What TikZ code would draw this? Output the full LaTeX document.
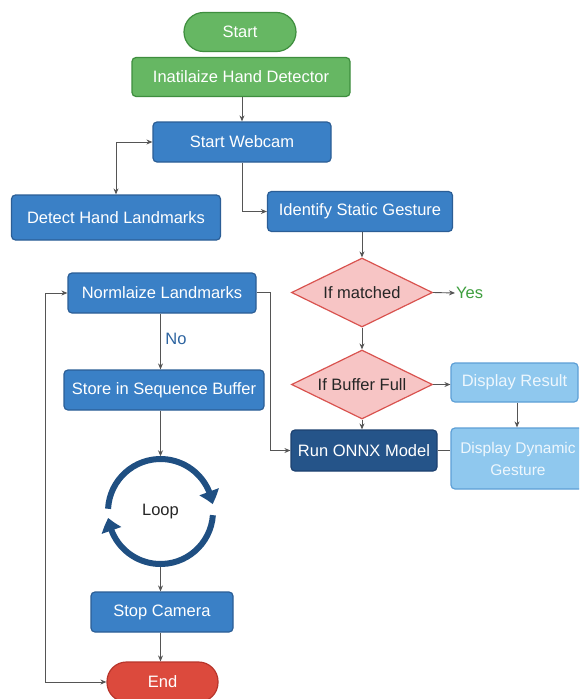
\documentclass[tikz,border=0pt]{standalone}
\usepackage{fontspec}
\setmainfont{Liberation Sans}
\usetikzlibrary{arrows.meta,bending,shapes.geometric}
\definecolor{greenfill}{HTML}{66B763}
\definecolor{greenline}{HTML}{3E8E3E}
\definecolor{bluefill}{HTML}{3A80C6}
\definecolor{blueline}{HTML}{2B5E96}
\definecolor{lightfill}{HTML}{8FC8EE}
\definecolor{lightline}{HTML}{5D9FD6}
\definecolor{lighttext}{HTML}{EEF7FD}
\definecolor{darkfill}{HTML}{255489}
\definecolor{darkline}{HTML}{1D4170}
\definecolor{pinkfill}{HTML}{F7C5C5}
\definecolor{pinkline}{HTML}{D9534F}
\definecolor{redfill}{HTML}{DC4A3D}
\definecolor{redline}{HTML}{B8352B}
\definecolor{ringblue}{HTML}{1F4F82}
\definecolor{wire}{HTML}{555555}
\definecolor{yesgreen}{HTML}{3F9F3F}
\definecolor{noblue}{HTML}{2D64A0}
\tikzset{
  txt/.style={font=\fontsize{16.5}{22}\selectfont},
  box/.style={txt, rectangle, rounded corners=4pt, draw, line width=1.2pt,
    inner sep=0pt, align=center},
  bluebox/.style={box, fill=bluefill, draw=blueline, text=white},
  greenbox/.style={box, fill=greenfill, draw=greenline, text=white},
  lightbox/.style={box, fill=lightfill, draw=lightline, text=lighttext},
  darkbox/.style={box, fill=darkfill, draw=darkline, text=white},
  pill/.style={box, rounded corners=19.5pt},
  decision/.style={txt, diamond, aspect=2, draw=pinkline, fill=pinkfill,
    line width=1.2pt, text=black!85, inner sep=0pt,
    minimum width=141pt, minimum height=69pt},
  conn/.style={draw=wire, line width=0.9pt, -{Stealth[length=6pt,width=5pt]}},
  bothconn/.style={draw=wire, line width=0.9pt,
    {Stealth[length=6pt,width=5pt]}-{Stealth[length=6pt,width=5pt]}},
  plainconn/.style={draw=wire, line width=0.9pt},
  ring/.style={draw=ringblue, line width=6pt,
    -{Triangle[length=13pt,width=20pt,bend]}},
}
\begin{document}
\begin{tikzpicture}[x=1pt,y=-1pt]
  \useasboundingbox (0,0) rectangle (579,699);
  \clip (0,0) rectangle (579,699);
  \fill[white] (0,0) rectangle (579,699);

  % start / init
  \node[pill, fill=greenfill, draw=greenline, text=white,
        minimum width=112pt, minimum height=39pt] (start) at (240,32) {Start};
  \node[greenbox, minimum width=218pt, minimum height=39pt] (init) at (241,77) {Inatilaize Hand Detector};
  \node[bluebox, minimum width=178pt, minimum height=40pt] (webcam) at (242,142) {Start Webcam};
  \node[bluebox, minimum width=209pt, minimum height=45pt] (detect) at (116,217.5) {Detect Hand Landmarks};
  \node[bluebox, minimum width=185pt, minimum height=40pt] (identify) at (360,211.5) {Identify Static Gesture};

  % decisions and right branch
  \node[decision] (matched) at (362,292.5) {If matched};
  \node[txt, text=yesgreen, inner sep=1pt, anchor=west] (yes) at (455,293) {Yes};
  \node[decision] (buffer) at (362,384.5) {If Buffer Full};
  \node[lightbox, minimum width=127pt, minimum height=39pt] (result) at (514.5,382.5) {Display Result};
  \node[darkbox, minimum width=146pt, minimum height=41pt] (onnx) at (364,450.5) {Run ONNX Model};
  \node[lightbox, minimum width=134pt, minimum height=61pt,
        font=\fontsize{15.5}{22}\selectfont] (dynamic) at (518,458.5) {Display Dynamic\\Gesture};

  % left column
  \node[bluebox, minimum width=188pt, minimum height=40pt] (normalize) at (162,293) {Normlaize Landmarks};
  \node[txt, text=noblue, inner sep=0pt] (no) at (176,339) {No};
  \node[bluebox, minimum width=200pt, minimum height=40pt] (store) at (164,390) {Store in Sequence Buffer};
  \node[txt, circle, minimum size=110pt, inner sep=0pt, text=black!85] (loop) at (160.5,511.5) {Loop};
  \node[bluebox, minimum width=142pt, minimum height=40pt] (stop) at (162,612) {Stop Camera};
  \node[pill, fill=redfill, draw=redline, text=white,
        minimum width=111pt, minimum height=40pt] (end) at (162.5,682) {End};

  \coordinate (bend) at (270.5,292);
  \coordinate (leftrail) at (45.5,490);

  % loop ring
  \draw[ring] ([shift={(183:52.5)}]loop.center) arc[start angle=183, end angle=352, radius=52.5];
  \draw[ring] ([shift={(4:52.5)}]loop.center) arc[start angle=4, end angle=173, radius=52.5];

  % connectors
  \draw[conn] (init.south -| webcam.north) -- (webcam.north);
  \draw[bothconn] (webcam.west) -| (detect.north);
  \draw[conn] (webcam.south) |- (identify.west);
  \draw[conn] (identify.south -| matched.north) -- (matched.north);
  \draw[conn] (matched.east) -- (yes.west);
  \draw[conn] (matched.south) -- (buffer.north);
  \draw[conn] (buffer.east) -- (buffer.east -| result.west);
  \draw[conn] (result.south -| 517,0) -- (dynamic.north -| 517,0);
  \draw[conn] (buffer.south) -- (buffer.south |- onnx.north);
  \draw[plainconn] (onnx.east) -- (onnx.east -| dynamic.west);
  \draw[conn] (normalize.east |- bend) -- (bend) |- (onnx.west);
  \draw[bothconn] (end.west) -| (leftrail) |- (normalize.west);
  \draw[conn] (normalize.south -| loop) -- (store.north -| loop);
  \draw[conn] (store.south -| loop) -- (loop.north);
  \draw[conn] (loop.south) -- (stop.north -| loop);
  \draw[conn] (stop.south -| loop) -- (end.north -| loop);
\end{tikzpicture}
\end{document}
